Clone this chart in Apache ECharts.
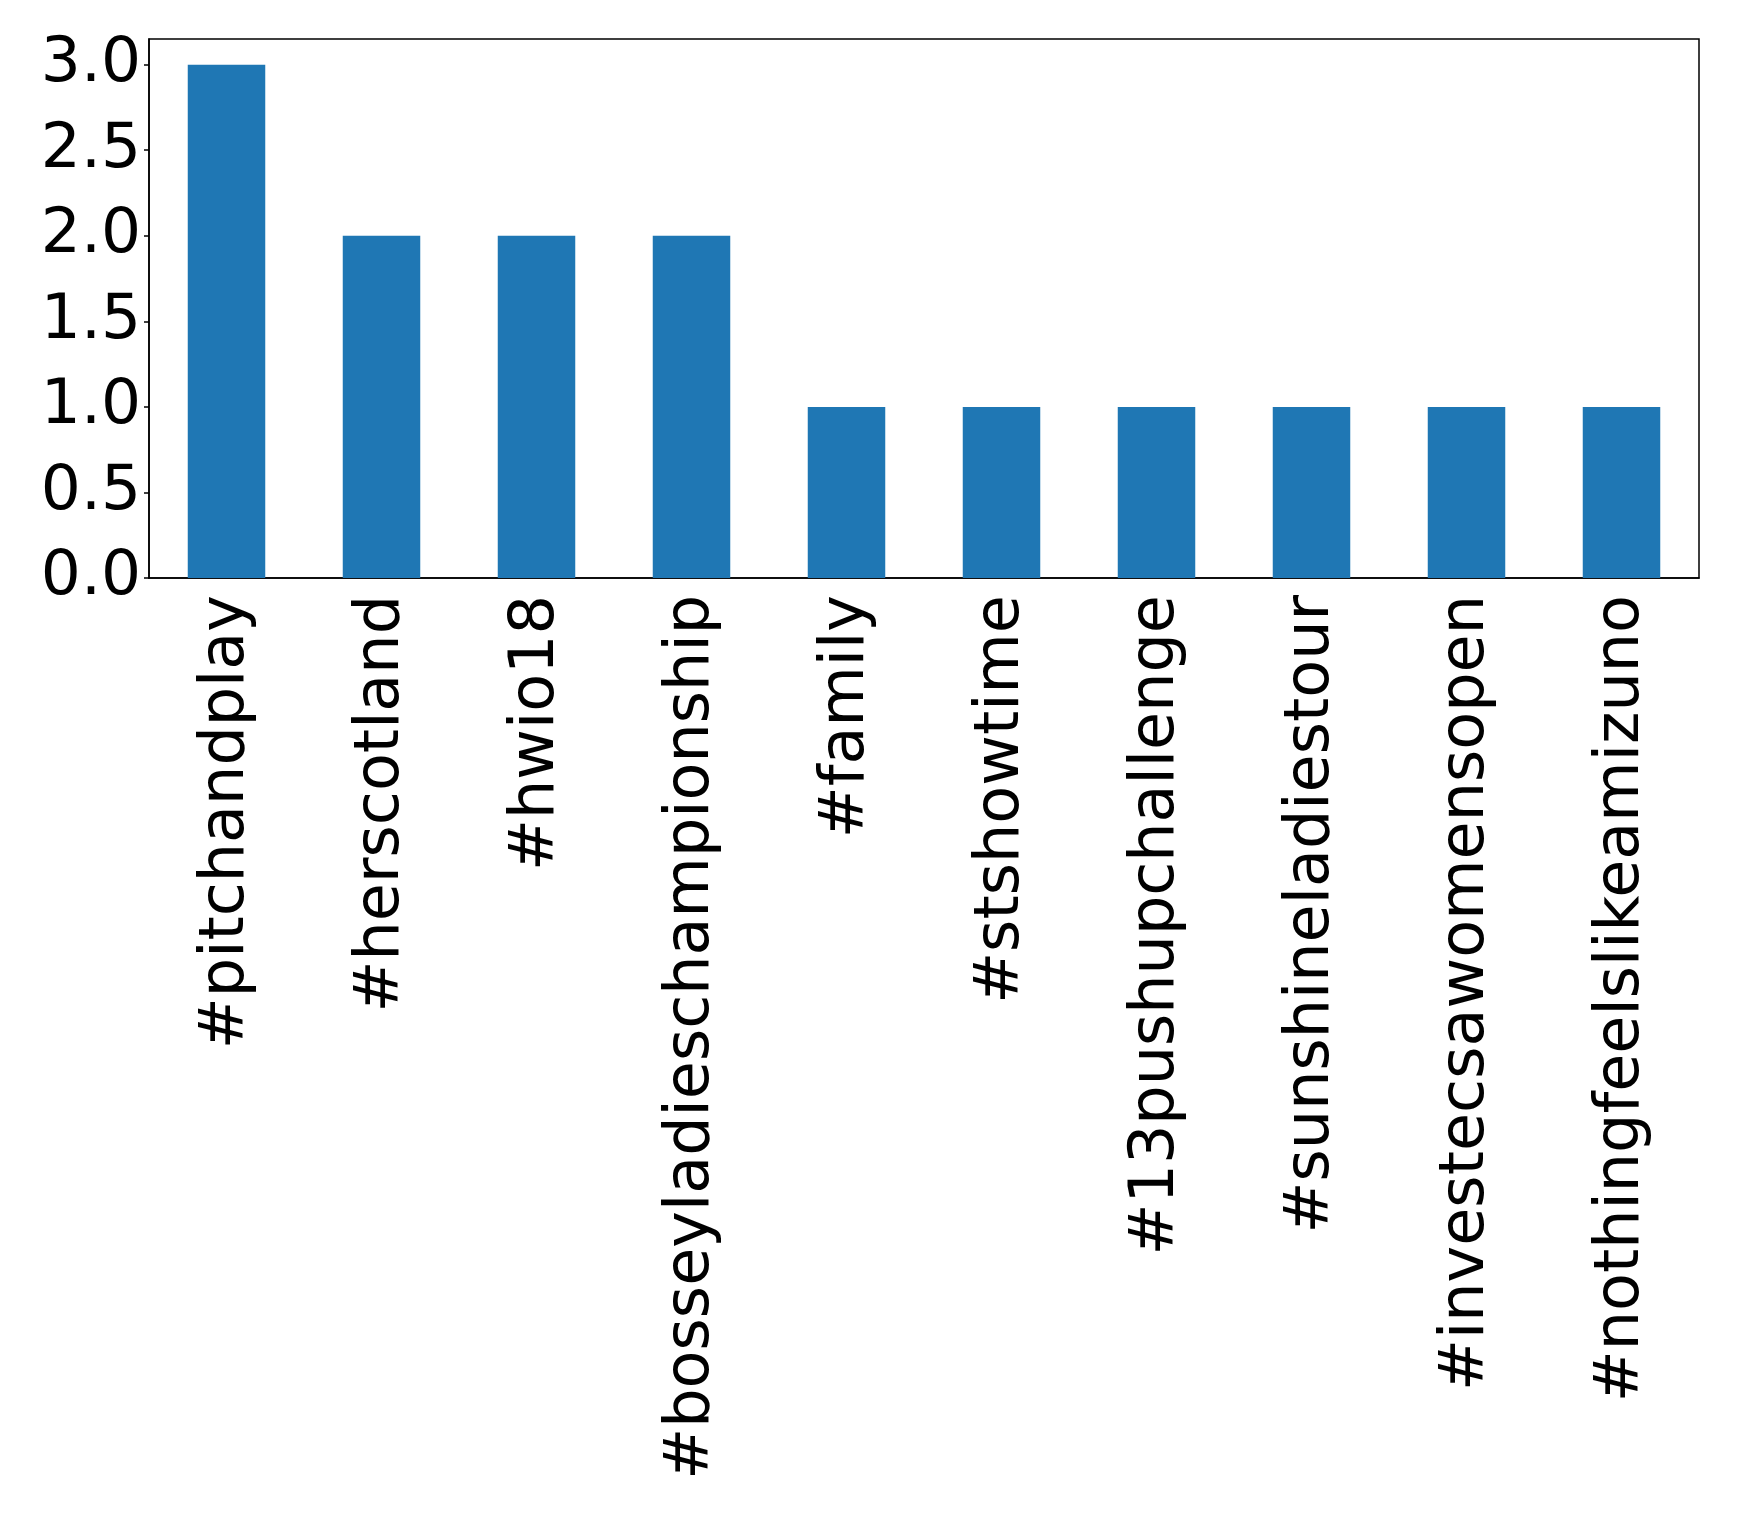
<!DOCTYPE html>
<html>
<head>
<meta charset="utf-8">
<script src="https://cdn.jsdelivr.net/npm/echarts@6/dist/echarts.min.js"></script>
<style>
  html, body { margin: 0; padding: 0; background: #fff; }
  #main { width: 1739px; height: 1519px; }
</style>
</head>
<body>
<div id="main"></div>
<script>
// hashtag counts
var hashtags = ['#pitchandplay', '#herscotland', '#hwio18', '#bosseyladieschampionship', '#family',
    '#stshowtime', '#13pushupchallenge', '#sunshineladiestour', '#investecsawomensopen', '#nothingfeelslikeamizuno'];
var counts = [3, 2, 2, 2, 1, 1, 1, 1, 1, 1];
var yTicks = [0, 0.5, 1, 1.5, 2, 2.5, 3];

var chart = echarts.init(document.getElementById('main'));

var font = 'DejaVu Sans';

var option = {
    animation: false,
    backgroundColor: '#fff',
    grid: {
        left: 149, top: 39, width: 1550, height: 539,
        show: true, borderColor: '#000', borderWidth: 1.5, backgroundColor: 'transparent'
    },
    xAxis: {
        type: 'category',
        data: hashtags,
        axisLine: { lineStyle: { color: '#000', width: 1.5 } },
        axisTick: { alignWithLabel: true, length: 5, lineStyle: { color: '#000', width: 1.5 } },
        axisLabel: {
            rotate: 90, margin: 17, color: '#000',
            fontFamily: font, fontSize: 62, interval: 0
        },
        splitLine: { show: false }
    },
    yAxis: {
        type: 'value',
        min: 0, max: 3.15, interval: 0.5,
        axisLine: { show: true, lineStyle: { color: '#000', width: 1.5 } },
        axisTick: { show: true, length: 5, lineStyle: { color: '#000', width: 1.5 } },
        axisLabel: {
            color: '#000', fontFamily: font, fontSize: 63, margin: 8,
            showMaxLabel: false,
            formatter: function (v) {
                // only label the real ticks, not the padded max
                return yTicks.indexOf(v) >= 0 ? v.toFixed(1) : '';
            }
        },
        splitLine: { show: false }
    },
    series: [{
        type: 'bar',
        data: counts,
        barWidth: '50%',
        itemStyle: { color: '#1f77b4' }
    }]
};

chart.setOption(option);
</script>
</body>
</html>
